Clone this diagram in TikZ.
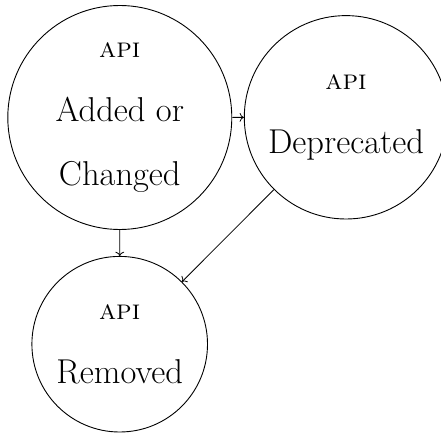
\documentclass[tikz,border=0pt]{standalone}
\usetikzlibrary{arrows.meta}
\begin{document}
\begin{tikzpicture}[x=1pt,y=-1pt,
  state/.style={circle,draw,line width=0.9pt,inner sep=0pt,align=center,
    font=\fontsize{34.5}{64}\selectfont},
  flow/.style={-{Computer Modern Rightarrow[scale=1.25]},line width=0.8pt}]
\useasboundingbox (0,0) rectangle (441,433);
\newcommand{\apitag}{{\fontsize{28}{64}\selectfont\textsc{api}}}
\node[state,minimum size=224pt]   (added) at (119.8,117.5) {\apitag\\Added or\\Changed};
\node[state,minimum size=203.4pt] (depr)  at (346,117.3)   {\apitag\\Deprecated};
\node[state,minimum size=175.6pt] (rem)   at (119.7,344.2) {\apitag\\Removed};
\draw[flow] (added) -- (depr);
\draw[flow] (added) -- (rem);
\draw[flow] (depr) -- (rem);
\end{tikzpicture}
\end{document}
